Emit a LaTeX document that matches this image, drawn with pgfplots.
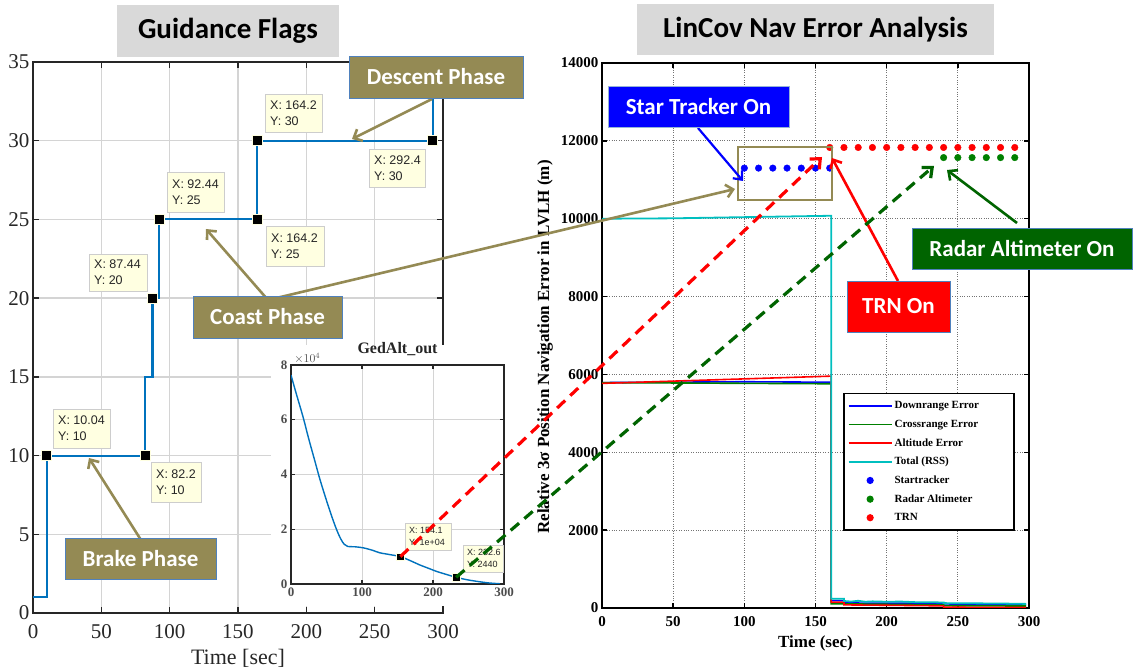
\documentclass[border=0pt]{standalone}
\usepackage{pgfplots}
\pgfplotsset{compat=1.18}
\usepackage{fontspec}
\setmainfont{Liberation Serif}
\newfontfamily\calfont{Carlito}
\newfontfamily\arifont{Liberation Sans}
\usetikzlibrary{arrows.meta}
\definecolor{olv}{RGB}{148,138,84}
\definecolor{mblue}{RGB}{0,114,189}
\definecolor{bord}{RGB}{79,129,189}
\definecolor{dgreen}{RGB}{0,100,0}
\definecolor{mgreen}{RGB}{0,128,0}
\definecolor{cyn}{RGB}{0,191,191}
\definecolor{tipbg}{RGB}{255,255,225}
\definecolor{tipbd}{RGB}{205,205,205}
\definecolor{lgrid}{RGB}{212,212,212}
\definecolor{titlebg}{RGB}{217,217,217}
\definecolor{axgray}{RGB}{38,38,38}
\pgfplotsset{
  lineleg/.style={legend image code/.code={\draw[##1] (0pt,0pt) -- (43pt,0pt);}},
  dotleg/.style={legend image code/.code={\draw[##1, mark size=2.8pt] plot coordinates {(21.5pt,0pt)};}},
  sqmark/.style={only marks, draw=none, mark=square*, mark size=#1, mark options={draw=tipbg, fill=black, line width=0.6pt, solid}},
}
\newcommand{\tip}[5]{%
  \draw[fill=tipbg, draw=tipbd, line width=0.7pt] (#1,#2) rectangle (#3,#4);
  \node[anchor=west, align=left, font=\arifont\fontsize{12.5}{16}\selectfont, text=black!85, inner sep=0pt] at ({#1+5},{(#2+#4)/2}) {#5};}
\newcommand{\stip}[5]{%
  \draw[fill=tipbg, draw=tipbd, line width=0.6pt] (#1,#2) rectangle (#3,#4);
  \node[anchor=west, align=left, font=\arifont\fontsize{9}{12}\selectfont, text=black!85, inner sep=0pt] at ({#1+4},{(#2+#4)/2}) {#5};}
\begin{document}
\begin{tikzpicture}
\path[use as bounding box] (0pt,0pt) rectangle (1133pt,671pt);

% ---------------- Guidance flags (left) ----------------
\begin{axis}[
  at={(33pt,58pt)}, anchor=south west, scale only axis,
  width=410pt, height=551pt,
  xmin=0, xmax=300, ymin=0, ymax=35,
  xtick={0,50,...,300}, ytick={0,5,...,35},
  xmajorgrids, ymajorgrids, axis on top=false,
  major grid style={draw=lgrid, line width=1.3pt, solid},
  axis line style={draw=axgray, line width=1.4pt},
  major tick style={draw=axgray, line width=1.4pt}, major tick length=6pt, tick align=inside,
  /pgf/number format/assume math mode=true,
  ticklabel style={font=\fontsize{21}{24}\selectfont, text=axgray},
  xticklabel style={yshift=-8pt},
  xlabel={Time [sec]}, xlabel style={font=\fontsize{22}{26}\selectfont, text=axgray, yshift=-4pt},
  clip mode=individual,
]
\addplot[color=mblue, line width=2.1pt, mark=none, line join=miter] coordinates {(0,1)(10.04,1)(10.04,10)(82.2,10)(82.2,15)(87.44,15)(87.44,20)(92.44,20)(92.44,25)(164.2,25)(164.2,30)(292.4,30)(292.4,35)};
\addplot[sqmark=5pt] coordinates {(10.04,10)};
\addplot[sqmark=5pt] coordinates {(82.2,10)};
\addplot[sqmark=5pt] coordinates {(87.44,20)};
\addplot[sqmark=5pt] coordinates {(92.44,25)};
\addplot[sqmark=5pt] coordinates {(164.2,25)};
\addplot[sqmark=5pt] coordinates {(164.2,30)};
\addplot[sqmark=5pt] coordinates {(292.4,30)};
\end{axis}

\begin{scope}[x=1pt,y=-1pt,yshift=671pt]
\fill[white] (271,345) rectangle (524,606);
\end{scope}

% ---------------- GedAlt_out inset ----------------
\begin{axis}[
  at={(291pt,87pt)}, anchor=south west, scale only axis,
  width=213pt, height=219pt,
  xmin=0, xmax=300, ymin=0, ymax=80000,
  xtick={0,100,200,300}, ytick={0,20000,40000,60000,80000}, yticklabels={0,2,4,6,8},
  scaled y ticks=false,
  xmajorgrids, ymajorgrids,
  major grid style={draw=lgrid, line width=1pt, solid},
  axis line style={draw=axgray, line width=1.2pt},
  major tick style={draw=axgray, line width=1.1pt}, major tick length=4pt, tick align=inside,
  /pgf/number format/assume math mode=true,
  ticklabel style={font=\bfseries\fontsize{13}{15}\selectfont, text=black!70},
  title={GedAlt\_out}, title style={font=\bfseries\fontsize{16}{18}\selectfont, text=black!85},
  clip mode=individual,
]
\addplot[color=mblue, line width=1.4pt, smooth, mark=none] coordinates {(0,76300)(8,69000)(17,61000)(25,53000)(33,45500)(41,38000)(50,30500)(57,25000)(64,20000)(70,16500)(75,14500)(80,13700)(90,13600)(102,13200)(115,12300)(125,11400)(140,10700)(154.1,10000)(170,8300)(181,7000)(193,5800)(205,4600)(220,3400)(232.6,2440)(247,1600)(261,1000)(278,400)(294,100)};
\addplot[sqmark=3.7pt] coordinates {(154.1,10000)};
\addplot[sqmark=3.7pt] coordinates {(232.6,2440)};
\coordinate (m1) at (axis cs:154.1,10000);
\coordinate (m2) at (axis cs:232.6,2440);
\node[anchor=south west, font=\fontsize{12}{14}\selectfont, text=black!70, inner sep=1pt] at (rel axis cs:0.01,1) {$\times10^4$};
\end{axis}

% ---------------- LinCov (right) ----------------
\begin{axis}[
  at={(602pt,63pt)}, anchor=south west, scale only axis,
  width=427pt, height=545pt,
  xmin=0, xmax=300, ymin=0, ymax=14000,
  xtick={0,50,...,300}, ytick={0,2000,...,14000},
  scaled y ticks=false, scaled x ticks=false,
  xmajorgrids, ymajorgrids,
  major grid style={draw=black!55, dotted, line width=0.8pt},
  axis line style={line width=1.8pt},
  major tick style={line width=1.4pt, black}, major tick length=5pt, tick align=inside,
  /pgf/number format/1000 sep={}, /pgf/number format/assume math mode=true,
  ticklabel style={font=\bfseries\fontsize{15}{18}\selectfont},
  xticklabel style={yshift=-5pt},
  xlabel={Time (sec)}, xlabel style={font=\bfseries\fontsize{17}{20}\selectfont, yshift=-2pt},
  legend style={at={(0.5644,0.3945)}, anchor=north west, draw=black, line width=1.5pt,
    font=\bfseries\fontsize{11}{13}\selectfont, row sep=5.6pt, inner xsep=4pt, inner ysep=6pt},
  legend cell align=left,
]
\addplot[draw=blue, line width=1.6pt, mark=none, lineleg] coordinates {(0,5790)(100,5812)(160,5800)(161,5800)(161,190)(170,190)(170,140)(180,140)(180,125)(240,118)(240,105)(298,90)};
\addlegendentry{Downrange Error}
\addplot[draw=mgreen, line width=1.6pt, mark=none, lineleg] coordinates {(0,5790)(160,5760)(161,5760)(161,110)(240,80)(240,60)(298,50)};
\addlegendentry{Crossrange Error\hspace*{30pt}}
\addplot[draw=red, line width=1.6pt, mark=none, lineleg] coordinates {(0,5770)(160,5955)(161,5955)(161,150)(170,150)(170,80)(200,70)(240,55)(240,20)(298,12)};
\addlegendentry{Altitude Error}
\addplot[draw=cyn, line width=1.8pt, mark=none, lineleg] coordinates {(0,10000)(50,10010)(100,10040)(160,10075)(161,10075)(161,240)(170,240)(170,180)(175,165)(180,185)(185,160)(190,170)(200,160)(210,165)(220,150)(230,150)(240,140)(240,125)(260,120)(280,115)(298,105)};
\addlegendentry{Total (RSS)}
\addplot[only marks, draw=none, mark=*, mark size=3.3pt, mark options={draw=blue, fill=blue, solid}, dotleg] coordinates {(100,11300)(110,11300)(120,11300)(130,11300)(140,11300)(150,11300)(160,11300)};
\addlegendentry{Startracker}
\addplot[only marks, draw=none, mark=*, mark size=3.3pt, mark options={draw=mgreen, fill=mgreen, solid}, dotleg] coordinates {(240,11570)(250,11570)(260,11570)(270,11570)(280,11570)(290,11570)};
\addlegendentry{Radar Altimeter}
\addplot[only marks, draw=none, mark=*, mark size=3.3pt, mark options={draw=red, fill=red, solid}, dotleg] coordinates {(160,11830)(170,11830)(180,11830)(190,11830)(200,11830)(210,11830)(220,11830)(230,11830)(240,11830)(250,11830)(260,11830)(270,11830)(280,11830)(290,11830)};
\addlegendentry{TRN}
\end{axis}

% ---------------- overlay annotations (pixel coords) ----------------
\begin{scope}[x=1pt,y=-1pt,yshift=671pt]
\node[rotate=90, font=\bfseries\fontsize{17}{20}\selectfont] at (545,347) {Relative 3σ Position Navigation Error in LVLH (m)};

% titles
\fill[titlebg] (117,5) rectangle (339,57);
\node[font=\calfont\bfseries\fontsize{29}{32}\selectfont] at (228,31) {Guidance Flags};
\fill[titlebg] (637,4) rectangle (994,55);
\node[font=\calfont\bfseries\fontsize{29}{32}\selectfont] at (815.5,30) {LinCov Nav Error Analysis};

% datatips left
\tip{53}{409}{110}{448}{X: 10.04\\Y: 10}
\tip{151}{462}{201}{502}{X: 82.2\\Y: 10}
\tip{89}{254}{147}{291}{X: 87.44\\Y: 20}
\tip{167}{172}{224}{212}{X: 92.44\\Y: 25}
\tip{266}{226}{324}{266}{X: 164.2\\Y: 25}
\tip{265}{94}{322}{132}{X: 164.2\\Y: 30}
\tip{369}{149}{425}{187}{X: 292.4\\Y: 30}
% datatips inset
\stip{405}{523}{451}{550}{X: 154.1\\Y: 1e+04}
\stip{463}{545}{503}{572}{X: 232.6\\Y: 2440}

% olive arrows
\begin{scope}[olv, line width=2.6pt, arrows={-Straight Barb[length=7pt,width=13pt]}]
\draw (432,99) -- (352,139);
\draw (268,300) -- (206,229);
\draw (268,300) -- (735,189);
\draw (141,540) -- (89,458);
\end{scope}
\draw[olv, line width=2.6pt] (738,147) rectangle (832,200);

% coloured arrows
\draw[blue, line width=2.2pt, -{Straight Barb[length=7pt,width=12pt]}] (698,128) -- (743,181);
\draw[red, line width=2.6pt, -{Straight Barb[length=7pt,width=13pt]}] (898,281) -- (832,158);
\draw[dgreen, line width=2.6pt, -{Straight Barb[length=7pt,width=13pt]}] (1017,223) -- (947,170);
\draw[red, line width=3.2pt, dash pattern=on 11pt off 7pt, -{Straight Barb[length=8pt,width=14pt]}] (m1) -- (822,157);
\draw[dgreen, line width=3.2pt, dash pattern=on 11pt off 7pt, -{Straight Barb[length=8pt,width=14pt]}] (m2) -- (934,166);

% label boxes
\tikzset{ann/.style={font=\calfont\bfseries\fontsize{23}{26}\selectfont, text=white}}
\filldraw[fill=olv, draw=bord, line width=0.8pt] (349,56) rectangle (523,98);
\node[ann] at (436,77) {Descent Phase};
\filldraw[fill=olv, draw=bord, line width=0.8pt] (193,296) rectangle (342,338);
\node[ann] at (267.5,317) {Coast Phase};
\filldraw[fill=olv, draw=bord, line width=0.8pt] (65,538) rectangle (216,579);
\node[ann] at (140.5,558.5) {Brake Phase};
\filldraw[fill=blue, draw=bord!60, line width=0.8pt] (608,86) rectangle (789,127);
\node[ann] at (698.5,106.5) {Star Tracker On};
\filldraw[fill=red, draw=bord, line width=0.8pt] (847,281) rectangle (950,332);
\node[ann] at (898.5,306.5) {TRN On};
\filldraw[fill=dgreen, draw=bord, line width=0.8pt] (912,228) rectangle (1132,269);
\node[ann] at (1022,248.5) {Radar Altimeter On};
\end{scope}
\end{tikzpicture}
\end{document}
